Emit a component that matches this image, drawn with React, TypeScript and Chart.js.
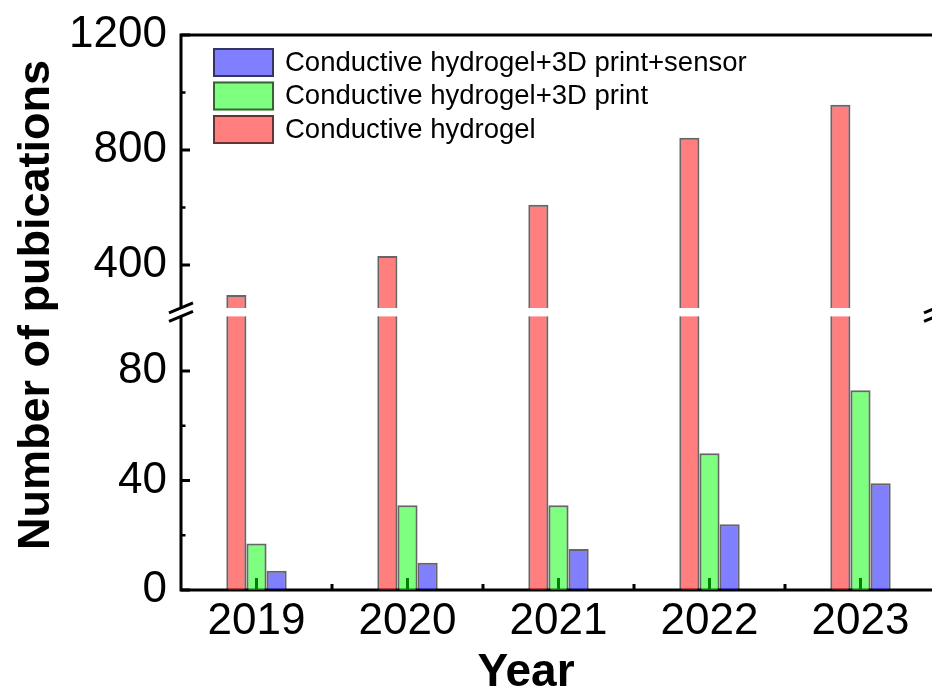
import { useEffect, useRef } from "react";
import { Chart, registerables } from "chart.js";

Chart.register(...registerables);

// ---- data ----
const years = ["2019", "2020", "2021", "2022", "2023"];
const hydrogel = [295, 431, 609, 842, 957];
const hydrogelPrint = [17, 31, 31, 50, 73];
const hydrogelPrintSensor = [7, 10, 15, 24, 39];

const seriesLabels = [
  "Conductive hydrogel+3D print+sensor",
  "Conductive hydrogel+3D print",
  "Conductive hydrogel",
];

const lowerMajorTicks = [0, 40, 80];
const lowerMinorTicks = [20, 60];
const upperMajorTicks = [400, 800, 1200];
const upperMinorTicks = [600, 1000];

// axis segments (broken axis): lower 0–100, upper 250–1200
const lowerBreak = 100;
const upperBreak = 250;
const lowerLimits = [0, 101.6];
const upperLimits = [236, 1200];

const yTitle = "Number of pubications";
const xTitle = "Year";

// ---- styles ----
const FONT = '"Liberation Sans", Arial, Helvetica, sans-serif';
const RED = "rgba(255,0,0,0.5)";
const GREEN = "rgba(0,255,0,0.5)";
const BLUE = "rgba(0,0,255,0.5)";
const EDGE = "rgba(0,0,0,0.6)";
const CLIP = { left: false, right: false, top: 0, bottom: 0 } as any;

const framePlugin = {
  id: "frame",
  beforeDatasetsDraw(chart: any) {
    const { ctx, chartArea: a, scales } = chart;
    const x = scales.x;
    const yl = scales.yLower;
    const yu = scales.yUpper;
    ctx.save();
    ctx.strokeStyle = "#000";
    ctx.lineCap = "butt";
    ctx.lineWidth = 3;
    ctx.beginPath();
    ctx.moveTo(a.left - 1.5, a.top);
    ctx.lineTo(a.right + 1.5, a.top);
    ctx.moveTo(a.left, a.top - 1.5);
    ctx.lineTo(a.left, a.bottom + 1.5);
    ctx.moveTo(a.right, a.top - 1.5);
    ctx.lineTo(a.right, a.bottom + 1.5);
    ctx.moveTo(a.left - 1.5, a.bottom);
    ctx.lineTo(a.right + 1.5, a.bottom);
    ctx.stroke();

    const yTicks = (scale: any, vals: number[], len: number) => {
      ctx.beginPath();
      vals.forEach((v) => {
        const p = scale.getPixelForValue(v);
        ctx.moveTo(a.left, p);
        ctx.lineTo(a.left + len, p);
      });
      ctx.stroke();
    };
    ctx.lineWidth = 3;
    yTicks(yl, lowerMajorTicks, 9);
    yTicks(yu, upperMajorTicks, 9);
    ctx.lineWidth = 2.5;
    yTicks(yl, lowerMinorTicks, 4.5);
    yTicks(yu, upperMinorTicks, 4.5);

    // x ticks
    const half = (x.getPixelForValue(1) - x.getPixelForValue(0)) / 2;
    ctx.lineWidth = 3;
    ctx.beginPath();
    years.forEach((_, i) => {
      const p = x.getPixelForValue(i);
      ctx.moveTo(p, a.bottom);
      ctx.lineTo(p, a.bottom - 12);
    });
    ctx.stroke();
    ctx.beginPath();
    years.forEach((_, i) => {
      if (i === years.length - 1) return;
      const p = x.getPixelForValue(i) + half;
      ctx.moveTo(p, a.bottom);
      ctx.lineTo(p, a.bottom - 6);
    });
    ctx.stroke();
    ctx.restore();
  },
  afterDatasetsDraw(chart: any) {
    const { ctx, chartArea: a, scales } = chart;
    const gTop = scales.yUpper.getPixelForValue(upperBreak);
    const gBot = scales.yLower.getPixelForValue(lowerBreak);
    ctx.save();
    ctx.fillStyle = "#fff";
    ctx.fillRect(a.left - 3, gTop, a.right - a.left + 6, gBot - gTop);
    ctx.strokeStyle = "#000";
    ctx.lineWidth = 3;
    ctx.beginPath();
    [a.left, a.right].forEach((ax) => {
      [gTop, gBot].forEach((yy) => {
        ctx.moveTo(ax - 12, yy + 5);
        ctx.lineTo(ax + 12, yy - 5);
      });
    });
    ctx.stroke();
    ctx.restore();
  },
  afterDraw(chart: any) {
    const { ctx, chartArea: a } = chart;
    ctx.save();
    // legend
    const fills = [BLUE, GREEN, RED];
    seriesLabels.forEach((lab, i) => {
      const bx = a.left + 32;
      const by = a.top + 13 + i * 33.5;
      ctx.fillStyle = fills[i];
      ctx.fillRect(bx, by, 61, 29);
      ctx.strokeStyle = EDGE;
      ctx.lineWidth = 2;
      ctx.strokeRect(bx + 1, by + 1, 59, 27);
      ctx.fillStyle = "#000";
      ctx.font = `27.5px ${FONT}`;
      ctx.textAlign = "left";
      ctx.textBaseline = "middle";
      ctx.fillText(lab, bx + 72, by + 15);
    });
    // y title
    ctx.font = `bold 45px ${FONT}`;
    ctx.fillStyle = "#000";
    ctx.textAlign = "center";
    ctx.textBaseline = "alphabetic";
    ctx.save();
    ctx.translate(49, 305);
    ctx.rotate(-Math.PI / 2);
    ctx.fillText(yTitle, 0, 0);
    ctx.restore();
    // x title
    ctx.font = `bold 46px ${FONT}`;
    ctx.fillText(xTitle, 526, 686);
    ctx.restore();
  },
};

export default function App() {
  const ref = useRef<HTMLCanvasElement>(null);
  useEffect(() => {
    const common = {
      borderColor: EDGE,
      borderWidth: 2,
      clip: CLIP,
      categoryPercentage: 0.4,
      barPercentage: 1,
    };
    const yCommon = {
      type: "linear" as const,
      position: "left" as const,
      stack: "y",
      stacked: false,
      grid: { display: false, drawTicks: false },
      border: { display: false },
      ticks: {
        font: { family: FONT, size: 44 },
        color: "#000",
        padding: 14,
        callback: (v: any) => String(v),
      },
      afterFit(s: any) {
        s.width = 181;
        s.paddingTop = 0;
        s.paddingBottom = 0;
      },
    };
    const chart = new Chart(ref.current as HTMLCanvasElement, {
      type: "bar",
      data: {
        labels: years,
        datasets: [
          { label: seriesLabels[2], data: hydrogel, yAxisID: "yLower", stack: "red", backgroundColor: RED, ...common },
          { label: seriesLabels[2], data: hydrogel, yAxisID: "yUpper", stack: "red", backgroundColor: RED, ...common },
          { label: seriesLabels[1], data: hydrogelPrint, yAxisID: "yLower", stack: "green", backgroundColor: GREEN, ...common },
          { label: seriesLabels[0], data: hydrogelPrintSensor, yAxisID: "yLower", stack: "blue", backgroundColor: BLUE, ...common },
        ] as any,
      },
      options: {
        responsive: false,
        animation: false,
        devicePixelRatio: 1,
        layout: { padding: { top: 35, right: 24, left: 0, bottom: 0 } },
        plugins: { legend: { display: false }, tooltip: { enabled: false } },
        scales: {
          x: {
            type: "category",
            offset: true,
            grid: { display: false, drawTicks: false },
            border: { display: false },
            ticks: { font: { family: FONT, size: 44 }, color: "#000", padding: 5, autoSkip: false, maxRotation: 0 },
            afterFit(s: any) {
              s.height = 106;
              s.paddingLeft = 0;
              s.paddingRight = 0;
            },
          },
          yLower: {
            ...yCommon,
            stackWeight: 278,
            min: lowerLimits[0],
            max: lowerLimits[1],
            afterBuildTicks(s: any) {
              s.ticks = lowerMajorTicks.map((v) => ({ value: v }));
            },
          },
          yUpper: {
            ...yCommon,
            stackWeight: 277,
            min: upperLimits[0],
            max: upperLimits[1],
            afterBuildTicks(s: any) {
              s.ticks = upperMajorTicks.map((v) => ({ value: v }));
            },
          },
        } as any,
      },
      plugins: [framePlugin],
    });
    return () => chart.destroy();
  }, []);
  return (
    <div style={{ position: "absolute", left: 0, top: 0, width: 932, height: 696, overflow: "hidden", background: "#fff" }}>
      <canvas ref={ref} width={960} height={696} style={{ display: "block", width: 960, height: 696 }} />
    </div>
  );
}
